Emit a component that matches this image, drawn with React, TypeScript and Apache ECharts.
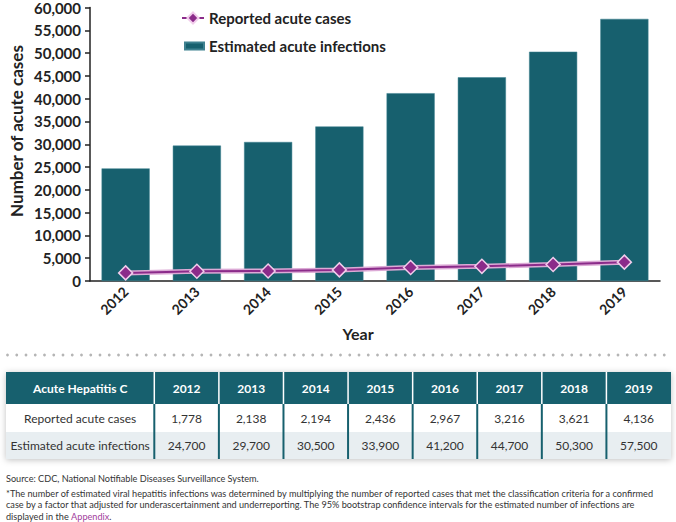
import React, { useEffect, useRef } from 'react';
import * as echarts from 'echarts';

const years = ['2012', '2013', '2014', '2015', '2016', '2017', '2018', '2019'];
const reportedCases = [1778, 2138, 2194, 2436, 2967, 3216, 3621, 4136];
const estimatedInfections = [24700, 29700, 30500, 33900, 41200, 44700, 50300, 57500];
const seriesNames = ['Reported acute cases', 'Estimated acute infections'];
const tableTitle = 'Acute Hepatitis C';
const yAxisTitle = 'Number of acute cases';
const xAxisTitle = 'Year';
const sourceText = 'Source: CDC, National Notifiable Diseases Surveillance System.';
const footnoteLine1 =
  '*The number of estimated viral hepatitis infections was determined by multiplying the number of reported cases that met the classification criteria for a confirmed';
const footnoteLine2 =
  'case by a factor that adjusted for underascertainment and underreporting. The 95% bootstrap confidence intervals for the estimated number of infections are';
const footnoteLine3a = 'displayed in the ';
const footnoteLink = 'Appendix';

const FONT = 'Lato, "Open Sans", sans-serif';
const TEAL = '#17606e';
const PURPLE = '#8b2b8a';
const DARK = '#222222';

const fmt = (v: number) => v.toLocaleString('en-US');

function buildGraphics() {
  const g: any[] = [];
  // axis titles
  g.push({
    type: 'text',
    x: 16,
    y: 131,
    rotation: Math.PI / 2,
    style: { text: yAxisTitle, font: `bold 17px ${FONT}`, fill: DARK, align: 'center', verticalAlign: 'middle' },
  });
  g.push({
    type: 'text',
    x: 358,
    y: 333,
    style: { text: xAxisTitle, font: `bold 16px ${FONT}`, fill: DARK, align: 'center', verticalAlign: 'middle' },
  });
  // dotted separator
  for (let x = 7.5; x < 672; x += 9.25) {
    g.push({ type: 'circle', shape: { cx: x, cy: 355, r: 1.4 }, style: { fill: '#b5b5b5' } });
  }
  // table
  const tLeft = 6;
  const tRight = 671;
  const c0 = 154.3;
  const colW = (tRight - c0) / years.length;
  const yHeadTop = 372;
  const yHeadBot = 404;
  const yRow1Bot = 432;
  const yRow2Bot = 459;
  g.push({
    type: 'rect',
    shape: { x: tLeft, y: yHeadTop, width: tRight - tLeft, height: yRow2Bot - yHeadTop },
    style: { fill: '#ffffff', shadowBlur: 6, shadowColor: 'rgba(0,0,0,0.25)', shadowOffsetY: 1 },
  });
  g.push({
    type: 'rect',
    shape: { x: tLeft, y: yHeadTop, width: tRight - tLeft, height: yHeadBot - yHeadTop },
    style: { fill: TEAL },
  });
  g.push({
    type: 'rect',
    shape: { x: tLeft, y: yRow1Bot, width: tRight - tLeft, height: yRow2Bot - yRow1Bot },
    style: { fill: '#e8eef1' },
  });
  for (let i = 0; i < years.length; i++) {
    const xs = c0 + colW * i;
    g.push({ type: 'line', shape: { x1: xs, y1: yHeadTop, x2: xs, y2: yHeadBot }, style: { stroke: '#ffffff', lineWidth: 1.5 } });
    g.push({ type: 'line', shape: { x1: xs, y1: yHeadBot, x2: xs, y2: yRow2Bot }, style: { stroke: TEAL, lineWidth: 2 } });
  }
  const hy = (yHeadTop + yHeadBot) / 2;
  const r1 = (yHeadBot + yRow1Bot) / 2;
  const r2 = (yRow1Bot + yRow2Bot) / 2;
  const cell = (text: string, x: number, y: number, bold: boolean, color: string) => ({
    type: 'text',
    x,
    y,
    style: { text, font: `${bold ? 'bold ' : ''}12px ${FONT}`, fill: color, align: 'center', verticalAlign: 'middle' },
  });
  g.push(cell(tableTitle, (tLeft + c0) / 2, hy, true, '#ffffff'));
  g.push(cell(seriesNames[0], (tLeft + c0) / 2, r1, false, '#333333'));
  g.push(cell(seriesNames[1], (tLeft + c0) / 2, r2, false, '#333333'));
  years.forEach((yr, i) => {
    const cx = c0 + colW * (i + 0.5);
    g.push(cell(yr, cx, hy, true, '#ffffff'));
    g.push(cell(fmt(reportedCases[i]), cx, r1, false, '#333333'));
    g.push(cell(fmt(estimatedInfections[i]), cx, r2, false, '#333333'));
  });
  // footnotes
  const SX = 0.915;
  const note = (text: string, y: number) => ({
    type: 'text',
    x: 6,
    y,
    scaleX: SX,
    style: { text, font: `10px ${FONT}`, fill: '#333333', align: 'left', verticalAlign: 'middle' },
  });
  g.push(note(sourceText, 478));
  g.push(note(footnoteLine1, 493));
  g.push(note(footnoteLine2, 504.5));
  g.push({
    type: 'text',
    x: 6,
    y: 516,
    scaleX: SX,
    style: {
      text: `{a|${footnoteLine3a}}{b|${footnoteLink}}{a|.}`,
      verticalAlign: 'middle',
      align: 'left',
      rich: {
        a: { fontSize: 10, fontFamily: FONT, fill: '#333333', color: '#333333' },
        b: { fontSize: 10, fontFamily: FONT, fill: '#a23d9c', color: '#a23d9c' },
      },
    },
  });
  return g;
}

export default function App() {
  const ref = useRef<HTMLDivElement>(null);
  useEffect(() => {
    if (!ref.current) return;
    const chart = echarts.init(ref.current, null, { renderer: 'svg' });
    chart.setOption({
      animation: false,
      backgroundColor: '#ffffff',
      textStyle: { fontFamily: FONT },
      grid: { left: 90, right: 16, top: 6, bottom: 241, containLabel: false },
      legend: [
        {
          data: [seriesNames[0]],
          left: 181,
          top: 10.5,
          padding: 0,
          itemWidth: 22,
          itemHeight: 14,
          textStyle: { fontSize: 15, fontWeight: 'bold', color: DARK, fontFamily: FONT },
        },
        {
          data: [{ name: seriesNames[1], icon: 'rect' }],
          left: 184,
          top: 38.5,
          padding: 0,
          itemWidth: 19,
          itemHeight: 7,
          textStyle: { fontSize: 15, fontWeight: 'bold', color: DARK, fontFamily: FONT },
        },
      ],
      xAxis: {
        type: 'category',
        data: years,
        axisLine: { lineStyle: { color: DARK, width: 1.5 } },
        axisTick: { alignWithLabel: true, length: 5, lineStyle: { color: DARK, width: 1.5 } },
        axisLabel: { rotate: 45, margin: 8, fontSize: 14, fontWeight: 'bold', color: DARK, fontFamily: FONT },
      },
      yAxis: {
        type: 'value',
        min: 0,
        max: 60000,
        interval: 5000,
        splitLine: { show: false },
        axisLine: { show: true, lineStyle: { color: DARK, width: 1.5 } },
        axisTick: { show: true, length: 5, lineStyle: { color: DARK, width: 1.5 } },
        axisLabel: { margin: 9, fontSize: 15, fontWeight: 'bold', color: DARK, fontFamily: FONT, formatter: (v: number) => fmt(v) },
      },
      series: [
        {
          name: seriesNames[1],
          type: 'bar',
          data: estimatedInfections,
          barWidth: '67.5%',
          itemStyle: { color: TEAL, borderColor: '#3f8190', borderWidth: 0.5 },
        },
        {
          name: 'halo',
          type: 'line',
          data: reportedCases,
          symbol: 'none',
          silent: true,
          lineStyle: { color: '#dcaad6', width: 5 },
          z: 3,
        },
        {
          name: seriesNames[0],
          type: 'line',
          data: reportedCases,
          symbol: 'diamond',
          symbolSize: 14,
          lineStyle: { color: PURPLE, width: 2 },
          itemStyle: { color: PURPLE, borderColor: '#f1cdeb', borderWidth: 1.5 },
          z: 4,
        },
      ],
      graphic: buildGraphics(),
    });
    return () => chart.dispose();
  }, []);
  return (
    <div
      ref={ref}
      style={{ position: 'fixed', left: 0, top: 0, width: 676, height: 522, background: '#ffffff' }}
    />
  );
}
